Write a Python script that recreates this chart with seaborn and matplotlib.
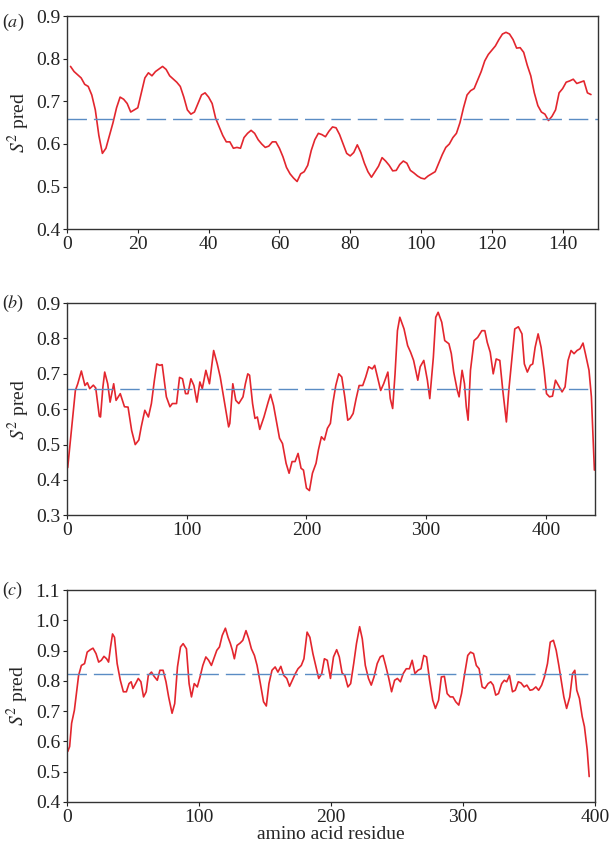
import numpy as np
import pandas as pd
import matplotlib
matplotlib.use("Agg")
import matplotlib.pyplot as plt
import seaborn as sns

# -----------------------------------------------------------------
# Datos: S2 predicho por residuo
# -----------------------------------------------------------------
res_a = [1, 2, 4, 5, 6, 7, 8, 9, 10, 11, 12, 13, 14, 15, 16, 17, 18, 19, 20,
         21, 22, 23, 24, 25, 27, 28, 29, 31, 32, 33, 34, 35, 36, 37, 38, 39, 40,
         41, 42, 43, 44, 45, 46, 47, 48, 49, 50, 51, 52, 53, 54, 55, 56, 57, 58,
         59, 60, 61, 62, 63, 64, 65, 66, 67, 68, 69, 70, 71, 72, 73, 74, 75, 76,
         77, 78, 79, 80, 81, 82, 83, 84, 85, 86, 87, 88, 89, 90, 91, 92, 93, 94,
         95, 96, 97, 98, 99, 100, 101, 102, 103, 104, 105, 106, 107, 108, 109,
         110, 111, 112, 113, 114, 115, 116, 117, 118, 119, 120, 121, 122, 123,
         124, 125, 126, 127, 128, 129, 130, 131, 132, 133, 134, 135, 136, 137,
         138, 139, 140, 141, 142, 143, 144, 145, 146, 147, 148]
s2_a = [0.782, 0.770, 0.755, 0.740, 0.735, 0.715, 0.680, 0.620, 0.578, 0.590,
        0.620, 0.650, 0.685, 0.710, 0.705, 0.695, 0.675, 0.680, 0.685, 0.720,
        0.755, 0.767, 0.760, 0.770, 0.782, 0.775, 0.760, 0.745, 0.735, 0.710,
        0.680, 0.670, 0.675, 0.695, 0.715, 0.720, 0.710, 0.695, 0.660, 0.640,
        0.620, 0.605, 0.605, 0.590, 0.592, 0.590, 0.615, 0.625, 0.632, 0.625,
        0.610, 0.600, 0.592, 0.595, 0.605, 0.605, 0.590, 0.570, 0.545, 0.530,
        0.520, 0.512, 0.530, 0.535, 0.550, 0.585, 0.610, 0.625, 0.622, 0.617,
        0.630, 0.640, 0.638, 0.622, 0.600, 0.578, 0.572, 0.580, 0.598, 0.580,
        0.555, 0.535, 0.522, 0.535, 0.548, 0.568, 0.560, 0.550, 0.537, 0.538,
        0.552, 0.560, 0.555, 0.538, 0.532, 0.525, 0.520, 0.518, 0.525, 0.530,
        0.535, 0.555, 0.575, 0.592, 0.600, 0.615, 0.625, 0.650, 0.685, 0.715,
        0.725, 0.730, 0.750, 0.770, 0.795, 0.810, 0.820, 0.830, 0.845, 0.858,
        0.862, 0.858, 0.845, 0.825, 0.826, 0.815, 0.785, 0.760, 0.720, 0.690,
        0.675, 0.670, 0.655, 0.665, 0.680, 0.720, 0.730, 0.745, 0.748, 0.752,
        0.742, 0.745, 0.748, 0.720, 0.716]

res_b = [0.6, 7, 9, 12, 15, 17, 19, 22, 24, 27, 28, 30, 31.5, 34, 36, 39, 41,
         44.5, 48, 51, 54, 57, 60, 62, 65, 68, 70.5, 73, 75, 77.5, 79.5, 83, 86,
         88, 91.5, 94, 96.5, 99, 101, 103.5, 106, 108.5, 111, 113, 116, 119,
         122.5, 125.5, 128, 131, 135, 136, 138.5, 141, 143.5, 147, 149, 151,
         152.5, 155, 157, 159, 161, 164.5, 168, 170, 172.5, 175, 177.5, 180, 183,
         185.5, 188, 190.5, 193, 195.5, 197.5, 200, 202.5, 205, 208, 210, 212.5,
         215, 217.5, 220, 222, 224.5, 227, 229.5, 232, 234.5, 236.5, 239, 241.5,
         244, 247, 249.5, 252, 255, 257, 260, 262, 264.5, 268, 270, 272, 274,
         276, 278, 281.5, 284.5, 287, 289.5, 293, 295, 298, 301, 303, 306, 308,
         310, 313, 315.5, 319, 321, 323, 326, 327.5, 330, 332, 333.5, 335, 337,
         340, 343, 346.5, 349, 351, 353.5, 356, 358.5, 361.5, 364, 367, 369, 372,
         374, 377, 380, 382, 384.5, 387, 389, 391, 393.5, 396, 398.5, 400.5, 403,
         405.5, 408, 410.5, 413.5, 416, 418.5, 421, 423.5, 426, 428.5, 431, 433,
         436, 438, 440.5]
s2_b = [0.435, 0.653, 0.672, 0.708, 0.667, 0.675, 0.658, 0.668, 0.660, 0.580,
        0.578, 0.663, 0.705, 0.672, 0.620, 0.672, 0.625, 0.644, 0.607, 0.606,
        0.540, 0.500, 0.513, 0.550, 0.597, 0.578, 0.616, 0.682, 0.728, 0.724,
        0.726, 0.635, 0.607, 0.616, 0.616, 0.690, 0.686, 0.644, 0.644, 0.686,
        0.667, 0.620, 0.677, 0.658, 0.710, 0.672, 0.766, 0.728, 0.691, 0.630,
        0.550, 0.560, 0.672, 0.625, 0.616, 0.635, 0.672, 0.700, 0.696, 0.616,
        0.574, 0.578, 0.543, 0.578, 0.620, 0.642, 0.611, 0.564, 0.518, 0.503,
        0.447, 0.419, 0.452, 0.452, 0.475, 0.433, 0.428, 0.377, 0.370, 0.419,
        0.447, 0.485, 0.522, 0.513, 0.546, 0.560, 0.616, 0.667, 0.700, 0.691,
        0.635, 0.569, 0.574, 0.588, 0.630, 0.667, 0.667, 0.691, 0.720, 0.714,
        0.724, 0.682, 0.653, 0.672, 0.705, 0.630, 0.602, 0.700, 0.822, 0.860,
        0.827, 0.780, 0.761, 0.738, 0.682, 0.720, 0.738, 0.682, 0.630, 0.747,
        0.860, 0.874, 0.846, 0.794, 0.785, 0.757, 0.705, 0.653, 0.635, 0.710,
        0.672, 0.607, 0.569, 0.710, 0.794, 0.803, 0.822, 0.822, 0.789, 0.761,
        0.700, 0.742, 0.738, 0.653, 0.564, 0.653, 0.757, 0.827, 0.833, 0.813,
        0.728, 0.705, 0.724, 0.728, 0.775, 0.813, 0.775, 0.710, 0.644, 0.635,
        0.637, 0.682, 0.667, 0.649, 0.663, 0.738, 0.766, 0.757, 0.766, 0.771,
        0.787, 0.757, 0.710, 0.635, 0.428]

res_c = [0.6, 2, 3.5, 5.6, 7.4, 8.8, 10.9, 13.3, 15.3, 17.7, 19.7, 22, 24, 26,
         28, 30, 31.5, 33, 34.5, 36, 38, 40.4, 42.7, 45, 47, 48.6, 50, 52, 54,
         56, 58, 60, 61.6, 64, 66, 68.4, 70.4, 72.8, 75, 77, 79.6, 81.6, 83.7,
         86, 88, 90.5, 92.5, 94.3, 96.4, 98.7, 100.8, 102.9, 105.2, 107.3, 109.4,
         111.7, 113.5, 115.5, 117.6, 120, 122, 123.8, 125.3, 126.8, 128.8, 131.2,
         133.2, 135.6, 137.7, 139.7, 142, 144, 146.5, 148.9, 151, 153, 155.3,
         157.7, 159.8, 162, 164.2, 166.5, 168.6, 170.7, 173, 175, 177.5, 179.5,
         181.9, 184, 186.3, 188.4, 190.7, 193, 195, 197.2, 199.6, 201.9, 204.3,
         206.3, 208.4, 210.5, 212.8, 214.9, 217.2, 219.3, 221.7, 223.7, 226,
         228.4, 230.5, 232.6, 235, 237.3, 239.4, 241.4, 243.8, 245.9, 248.2,
         250.3, 252.6, 254.7, 257, 259.4, 261.5, 263.6, 265.9, 268.2, 270.3,
         272.4, 274.7, 277.1, 279.1, 281.5, 283.6, 285.9, 288, 290.3, 292.4,
         294.5, 296.8, 298.9, 301.3, 303.6, 305.7, 308, 310.1, 312.2, 314.5,
         316.6, 319, 321, 322.9, 324.8, 326.9, 329.3, 331.3, 333.1, 335.2, 337.5,
         339.6, 341.9, 344, 346.3, 348.4, 350.8, 352.8, 355.2, 357.3, 359.6,
         361.7, 364, 366.1, 368.5, 370.6, 372.6, 374.4, 376.4, 378.5, 380.9, 383,
         384.7, 386.2, 388.2, 390.3, 392, 394.1, 395.6]
s2_c = [0.567, 0.583, 0.660, 0.703, 0.769, 0.818, 0.851, 0.857, 0.895, 0.903,
        0.908, 0.890, 0.862, 0.868, 0.881, 0.873, 0.862, 0.912, 0.955, 0.944,
        0.857, 0.802, 0.764, 0.764, 0.791, 0.797, 0.775, 0.791, 0.808, 0.797,
        0.747, 0.764, 0.818, 0.829, 0.815, 0.802, 0.835, 0.835, 0.797, 0.747,
        0.693, 0.725, 0.846, 0.912, 0.923, 0.906, 0.791, 0.747, 0.791, 0.780,
        0.813, 0.851, 0.879, 0.868, 0.851, 0.879, 0.901, 0.912, 0.950, 0.974,
        0.944, 0.923, 0.901, 0.873, 0.917, 0.925, 0.934, 0.966, 0.939, 0.906,
        0.884, 0.851, 0.791, 0.731, 0.717, 0.791, 0.835, 0.846, 0.829, 0.848,
        0.818, 0.808, 0.782, 0.802, 0.824, 0.840, 0.851, 0.873, 0.961, 0.944,
        0.890, 0.851, 0.808, 0.824, 0.873, 0.868, 0.808, 0.879, 0.903, 0.879,
        0.826, 0.818, 0.780, 0.791, 0.857, 0.923, 0.979, 0.939, 0.851, 0.808,
        0.786, 0.813, 0.857, 0.879, 0.884, 0.851, 0.808, 0.764, 0.802, 0.808,
        0.797, 0.824, 0.840, 0.840, 0.868, 0.824, 0.835, 0.840, 0.884, 0.879,
        0.802, 0.736, 0.709, 0.736, 0.813, 0.815, 0.758, 0.747, 0.747, 0.731,
        0.720, 0.758, 0.824, 0.884, 0.895, 0.890, 0.851, 0.840, 0.780, 0.775,
        0.791, 0.797, 0.786, 0.753, 0.758, 0.791, 0.802, 0.797, 0.818, 0.764,
        0.769, 0.797, 0.793, 0.780, 0.786, 0.769, 0.771, 0.780, 0.769, 0.786,
        0.813, 0.857, 0.928, 0.934, 0.901, 0.851, 0.802, 0.747, 0.709, 0.747,
        0.824, 0.835, 0.769, 0.742, 0.682, 0.649, 0.572, 0.484]

# umbral (línea discontinua) por panel
umbral_a = 0.658
umbral_b = 0.656
umbral_c = 0.823

letras = ["a", "b", "c"]
xlims = [(0, 150), (0, 441), (0, 400)]
ylims = [(0.4, 0.9), (0.3, 0.9), (0.4, 1.1)]
xticks = [np.arange(0, 141, 20), np.arange(0, 401, 100), np.arange(0, 401, 100)]
yticks = [np.arange(0.4, 0.91, 0.1), np.arange(0.3, 0.91, 0.1), np.arange(0.4, 1.11, 0.1)]

# -----------------------------------------------------------------
# Estilo
# -----------------------------------------------------------------
sns.set_style("ticks")
plt.rcParams["font.family"] = "serif"
plt.rcParams["font.serif"] = ["Liberation Serif", "DejaVu Serif"]
plt.rcParams["mathtext.fontset"] = "stix"
plt.rcParams["axes.edgecolor"] = "#333333"
plt.rcParams["axes.linewidth"] = 1.0

rojo = "#e3262e"
azul = "#5a8cc4"

fig = plt.figure(figsize=(6.09, 8.49), dpi=100)
posiciones = [
    [0.110, 0.730, 0.872, 0.251],
    [0.110, 0.393, 0.867, 0.250],
    [0.110, 0.0554, 0.867, 0.2496],
]
etiq_y = [0.986, 0.655, 0.317]

datos = [(res_a, s2_a, umbral_a), (res_b, s2_b, umbral_b), (res_c, s2_c, umbral_c)]

for i, (res, s2, umbral) in enumerate(datos):
    ax = fig.add_axes(posiciones[i])
    df = pd.DataFrame({"residuo": res, "s2": s2})
    sns.lineplot(data=df, x="residuo", y="s2", ax=ax, color=rojo, linewidth=1.2)
    ax.axhline(umbral, color=azul, linewidth=1.0, dashes=(14, 5))
    ax.set_xlim(*xlims[i])
    ax.set_ylim(*ylims[i])
    ax.set_xticks(xticks[i])
    ax.set_yticks(yticks[i])
    ax.set_yticklabels([f"{v:.1f}" for v in yticks[i]])
    ax.tick_params(direction="out", length=3, width=0.8, labelsize=14,
                   colors="#222222", pad=2)
    ax.set_ylabel(r"$S^2$ pred", fontsize=14, labelpad=3)
    ax.set_xlabel("")
    fig.text(0.004, etiq_y[i], "(" + r"$\mathit{" + letras[i] + "}$" + ")",
             fontsize=13, va="top")
    if i == 2:
        ax.set_xlabel("amino acid residue", fontsize=14, labelpad=0)

fig.savefig("out.png", dpi=100)
